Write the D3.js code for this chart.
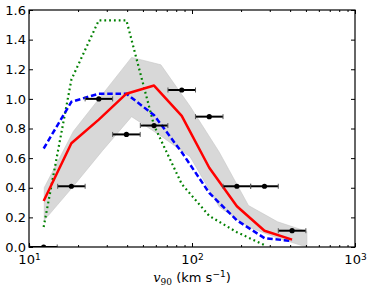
<!DOCTYPE html>
<html>
<head>
<meta charset="utf-8">
<script src="https://cdn.jsdelivr.net/npm/d3@7"></script>
<style>
  body { margin: 0; background: #fff; }
  svg { display: block; font-family: "DejaVu Sans", sans-serif; }
</style>
</head>
<body>
<svg id="chart"></svg>
<script>
// binned observations (v90 in km/s) with horizontal error bars
var vBin   = [12.3, 18.2, 26.8, 39.6, 58.5, 86.5, 127.6, 188.5, 278.4, 411.1];
var vBinLo = [10.1, 15.0, 22.1, 32.6, 48.2, 71.2, 105.0, 155.1, 229.1, 338.4];
var vBinHi = [14.9, 22.1, 32.6, 48.1, 71.1, 105.1, 155.0, 229.0, 338.3, 499.5];
var obsY   = [0.0, 0.41, 1.0, 0.76, 0.82, 1.06, 0.88, 0.41, 0.41, 0.11];

// model curves, sampled at the bin centres
var redY   = [0.31, 0.70, 0.86, 1.035, 1.09, 0.885, 0.535, 0.275, 0.11, 0.05];
var blueY  = [0.665, 0.98, 1.035, 1.035, 0.89, 0.64, 0.365, 0.18, 0.06, 0.04];
var greenY = [0.135, 1.13, 1.53, 1.53, 0.82, 0.425, 0.21, 0.10, 0.013];

// shaded range
var bandV  = [12.4, 18.7, 28.2, 42.6, 64.4, 97.3, 147, 222, 335, 507];
var bandHi = [0.40, 0.78, 1.03, 1.28, 1.23, 0.95, 0.64, 0.28, 0.17, 0.105];
var bandLo = [0.18, 0.41, 0.65, 0.88, 0.75, 0.61, 0.27, 0.135, 0.06, 0.0];

var yTicks = [0, 0.2, 0.4, 0.6, 0.8, 1.0, 1.2, 1.4, 1.6];
var xTicks = [10, 100, 1000];

var svgWidth = 374, svgHeight = 292;
var margin = { top: 10, right: 19, bottom: 45, left: 29 };
var width = svgWidth - margin.left - margin.right;
var height = svgHeight - margin.top - margin.bottom;

var svg = d3.select("#chart")
  .attr("width", svgWidth)
  .attr("height", svgHeight);

var g = svg.append("g")
  .attr("transform", "translate(" + margin.left + "," + margin.top + ")");

var x = d3.scaleLog().domain([10, 1000]).range([0, width]);
var y = d3.scaleLinear().domain([0, 1.6]).range([height, 0]);

svg.append("defs").append("clipPath").attr("id", "clip")
  .append("rect").attr("width", width).attr("height", height);

var plot = g.append("g").attr("clip-path", "url(#clip)");

// shaded band
var band = bandV.map(function(v, i) { return { v: v, lo: bandLo[i], hi: bandHi[i] }; });
plot.append("path")
  .datum(band)
  .attr("fill", "#d8d8d8")
  .attr("stroke", "#c6c6c6")
  .attr("stroke-width", 0.6)
  .attr("d", d3.area()
    .x(function(d) { return x(d.v); })
    .y0(function(d) { return y(d.lo); })
    .y1(function(d) { return y(d.hi); }));

var line = d3.line()
  .x(function(d) { return x(d[0]); })
  .y(function(d) { return y(d[1]); });

function pairs(ys) { return ys.map(function(v, i) { return [vBin[i], v]; }); }

plot.append("path")
  .datum(pairs(greenY))
  .attr("fill", "none")
  .attr("stroke", "#008000")
  .attr("stroke-width", 2.2)
  .attr("stroke-dasharray", "1.8,3")
  .attr("d", line);

plot.append("path")
  .datum(pairs(blueY))
  .attr("fill", "none")
  .attr("stroke", "#0000ff")
  .attr("stroke-width", 2.5)
  .attr("stroke-dasharray", "5.5,2.8")
  .attr("d", line);

plot.append("path")
  .datum(pairs(redY))
  .attr("fill", "none")
  .attr("stroke", "#ff0000")
  .attr("stroke-width", 2.5)
  .attr("stroke-linejoin", "round")
  .attr("d", line);

// error bars
var obs = vBin.map(function(v, i) { return { v: v, lo: vBinLo[i], hi: vBinHi[i], f: obsY[i] }; });
var eb = plot.selectAll(".eb").data(obs).enter().append("g").attr("class", "eb");
eb.append("line")
  .attr("x1", function(d) { return x(d.lo); })
  .attr("x2", function(d) { return x(d.hi); })
  .attr("y1", function(d) { return y(d.f); })
  .attr("y2", function(d) { return y(d.f); })
  .attr("stroke", "#000").attr("stroke-width", 2);
eb.selectAll(".cap").data(function(d) { return [[d.lo, d.f], [d.hi, d.f]]; })
  .enter().append("line")
  .attr("x1", function(d) { return x(d[0]); })
  .attr("x2", function(d) { return x(d[0]); })
  .attr("y1", function(d) { return y(d[1]) - 2.5; })
  .attr("y2", function(d) { return y(d[1]) + 2.5; })
  .attr("stroke", "#555").attr("stroke-width", 1);
eb.append("circle")
  .attr("cx", function(d) { return x(d.v); })
  .attr("cy", function(d) { return y(d.f); })
  .attr("r", 2.6)
  .attr("fill", "#000");

// axes, ticks pointing inwards
var minor = [];
[10, 100].forEach(function(b) { for (var k = 2; k < 10; k++) minor.push(b * k); });

function styleAxis(sel) {
  sel.select(".domain").remove();
  sel.selectAll(".tick line").attr("stroke", "#000").attr("stroke-width", 1);
  sel.selectAll("text").attr("font-size", 13).attr("fill", "#000")
    .attr("font-family", "DejaVu Sans, sans-serif");
}

g.append("g")
  .call(d3.axisLeft(y).tickValues(yTicks).tickSize(-4).tickPadding(3).tickFormat(d3.format(".1f")))
  .call(styleAxis);

g.append("g")
  .attr("transform", "translate(" + width + ",0)")
  .call(d3.axisRight(y).tickValues(yTicks).tickSize(-4).tickFormat(""))
  .call(styleAxis);

var gx = g.append("g")
  .attr("transform", "translate(0," + height + ")")
  .call(d3.axisBottom(x).tickValues(xTicks).tickSize(-4).tickPadding(8).tickFormat(""))
  .call(styleAxis);
gx.selectAll(".tick text").each(function(d) {
  var t = d3.select(this);
  t.append("tspan").text("10");
  t.append("tspan").attr("dy", "-0.5em").attr("font-size", 9).text(Math.round(Math.log10(d)));
});

g.append("g")
  .attr("transform", "translate(0," + height + ")")
  .call(d3.axisBottom(x).tickValues(minor).tickSize(-2).tickFormat(""))
  .call(styleAxis);

g.append("g")
  .call(d3.axisTop(x).tickValues(xTicks).tickSize(-4).tickFormat(""))
  .call(styleAxis);
g.append("g")
  .call(d3.axisTop(x).tickValues(minor).tickSize(-2).tickFormat(""))
  .call(styleAxis);

g.append("rect")
  .attr("width", width).attr("height", height)
  .attr("fill", "none").attr("stroke", "#000").attr("stroke-width", 1.2);

// x label
var xl = g.append("text")
  .attr("x", width / 2)
  .attr("y", height + 35)
  .attr("text-anchor", "middle")
  .attr("font-size", 13)
  .attr("fill", "#000");
xl.append("tspan").attr("font-family", "DejaVu Serif, serif").attr("font-style", "italic").text("v");
xl.append("tspan").attr("font-family", "DejaVu Serif, serif").attr("font-size", 9).attr("dy", 3).text("90");
xl.append("tspan").attr("dy", -3).text(" (km s");
xl.append("tspan").attr("font-size", 9).attr("dy", -5).text("\u22121");
xl.append("tspan").attr("dy", 5).text(")");
</script>
</body>
</html>
